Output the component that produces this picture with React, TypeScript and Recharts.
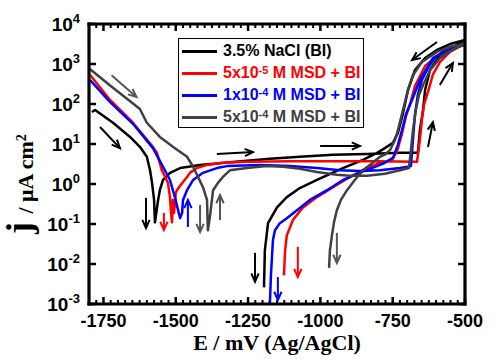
import React from 'react';
import { LineChart, Line, XAxis, YAxis, ReferenceLine, Legend } from 'recharts';

// potentials in mV vs Ag/AgCl, current density in uA cm^-2
// each curve: forward scan -1800 -> -500, then reverse scan back
const NACL: [number, number][] = [
  [-1790, 63], [-1779, 71], [-1717, 34], [-1658, 15], [-1624, 8.5], [-1600, 4.8],
  [-1589, 2.2], [-1582, 1.07], [-1575, 0.4], [-1572, 0.11], [-1566, 0.22], [-1561, 0.4],
  [-1555, 0.7], [-1544, 1.26], [-1520, 1.9], [-1485, 2.5], [-1416, 3.0], [-1313, 3.5],
  [-1174, 4.3], [-1071, 4.8], [-956, 5.4], [-839, 5.6], [-725, 6.0], [-663, 6.0],
  [-656, 22], [-645, 71], [-638, 224], [-621, 708], [-587, 1660], [-535, 2820], [-500, 4000],
  [-552, 3160], [-597, 2240], [-638, 1410], [-673, 708], [-697, 224], [-715, 56],
  [-732, 19], [-749, 10.7], [-777, 7.9], [-804, 6.0], [-853, 4.0], [-922, 2.5],
  [-1012, 1.26], [-1071, 0.79], [-1116, 0.47], [-1150, 0.26], [-1181, 0.105],
  [-1192, 0.022], [-1195, 0.0026],
];

const MSD_5E5: [number, number][] = [
  [-1797, 540], [-1727, 126], [-1648, 34], [-1579, 8.5], [-1565, 6.0], [-1548, 2.2],
  [-1527, 1.07], [-1520, 0.47], [-1517, 0.22], [-1513, 0.11], [-1510, 0.4], [-1506, 0.19],
  [-1500, 0.6], [-1496, 0.7], [-1485, 0.9], [-1475, 1.12], [-1461, 1.5], [-1451, 1.9],
  [-1427, 2.5], [-1392, 3.0], [-1337, 3.4], [-1250, 3.6], [-1100, 3.7], [-950, 3.7],
  [-800, 3.7], [-666, 3.6], [-656, 12.6], [-649, 40], [-642, 95], [-628, 200],
  [-611, 540], [-587, 1120], [-552, 2000], [-500, 3300],
  [-552, 2500], [-597, 1580], [-638, 890], [-673, 280], [-690, 100], [-704, 50],
  [-718, 18], [-732, 7.6], [-749, 4.3], [-777, 3.5], [-804, 3.2], [-839, 2.5],
  [-898, 1.5], [-956, 0.83], [-1012, 0.47], [-1060, 0.26], [-1095, 0.126],
  [-1116, 0.052], [-1122, 0.022], [-1126, 0.0052],
];

const MSD_1E4: [number, number][] = [
  [-1797, 400], [-1727, 112], [-1648, 32], [-1579, 7.9], [-1544, 2.7], [-1520, 1.26],
  [-1503, 0.47], [-1492, 0.22], [-1485, 0.14], [-1478, 0.19], [-1475, 0.4], [-1461, 0.7],
  [-1440, 1.26], [-1406, 1.9], [-1358, 2.5], [-1323, 2.8], [-1209, 3.0], [-1105, 2.8],
  [-1012, 2.5], [-932, 2.2], [-863, 2.1], [-794, 2.2], [-725, 2.5], [-687, 2.8],
  [-680, 12.6], [-673, 54], [-663, 170], [-649, 400], [-628, 800], [-604, 1410],
  [-569, 2240], [-500, 3000],
  [-552, 2500], [-611, 1410], [-656, 400], [-683, 126], [-704, 56], [-718, 22],
  [-732, 9.5], [-749, 4.5], [-777, 3.4], [-794, 3.0], [-863, 1.9], [-922, 1.26],
  [-977, 0.7], [-1036, 0.4], [-1081, 0.22], [-1116, 0.14], [-1140, 0.105],
  [-1157, 0.07], [-1164, 0.04], [-1167, 0.0166], [-1171, 0.0052], [-1174, 0.00126],
  [-1175, 0.001],
];

const MSD_5E4: [number, number][] = [
  [-1797, 750], [-1727, 290], [-1682, 160], [-1624, 75], [-1600, 34], [-1555, 15],
  [-1510, 8.5], [-1461, 4.8], [-1440, 2.7], [-1423, 1.5], [-1406, 0.83], [-1392, 0.4],
  [-1389, 0.07], [-1382, 0.15], [-1375, 0.4], [-1371, 0.7], [-1354, 1.07], [-1337, 1.5],
  [-1313, 2.2], [-1254, 2.5], [-1185, 2.8], [-1129, 2.7], [-1071, 2.4], [-1012, 2.0],
  [-943, 1.7], [-898, 1.6], [-839, 1.6], [-777, 1.8], [-725, 2.2], [-694, 2.5],
  [-687, 7], [-680, 22], [-670, 71], [-659, 170], [-645, 300], [-621, 700],
  [-587, 1400], [-545, 2240], [-500, 3160],
  [-545, 2800], [-597, 2000], [-649, 1120], [-680, 525], [-697, 224], [-718, 56],
  [-732, 22], [-742, 12.6], [-759, 7.1], [-777, 5.4], [-794, 4.8], [-829, 3.0],
  [-853, 2.2], [-881, 1.26], [-908, 0.7], [-929, 0.4], [-943, 0.22], [-953, 0.11],
  [-960, 0.052], [-967, 0.022], [-970, 0.008],
];

// scan direction arrows: [E start, j start, E end, j end]
const ARROWS_NACL = [
  [-1762, 26.6, -1693, 7.9], [-1358, 5.6, -1233, 6.3], [-1001, 8.9, -863, 8.9],
  [-597, 3550, -683, 1260], [-587, 300, -542, 1060], [-628, 8.4, -611, 35],
  [-1603, 0.45, -1603, 0.079], [-1226, 0.019, -1226, 0.0036],
];
const ARROWS_5E5 = [[-1541, 0.19, -1541, 0.071], [-1078, 0.027, -1078, 0.0047]];
const ARROWS_1E4 = [[-1458, 0.084, -1458, 0.4], [-1147, 0.0047, -1147, 0.00126]];
const ARROWS_5E4 = [
  [-1722, 520, -1636, 150], [-1416, 0.3, -1416, 0.063],
  [-1347, 0.126, -1347, 0.53], [-943, 0.06, -943, 0.0106],
];

const X_DOMAIN = [-1800, -500];
const Y_DOMAIN = [0.001, 10000];
const X_LABELS = [-1750, -1500, -1250, -1000, -750, -500];
const Y_TICKS = [0.001, 0.01, 0.1, 1, 10, 100, 1000, 10000];
const X_MINOR: number[] = [];
for (let e = -1775; e < -500; e += 25) if (e % 250 !== 0) X_MINOR.push(e);

const SANS = "'Liberation Sans', Arial, sans-serif";
const SERIF = "'Liberation Serif', 'Times New Roman', serif";

const toRows = (pts: [number, number][]) => pts.map(([E, j]) => ({ E, j }));

const SERIES = [
  { key: 'nacl', pre: '3.5% NaCl (BI)', sup: '', post: '', color: '#000000', arrowColor: '#000000', data: NACL, arrows: ARROWS_NACL },
  { key: 'm5e5', pre: '5x10', sup: '-5', post: ' M MSD + BI', color: '#ff0000', arrowColor: '#ff0000', data: MSD_5E5, arrows: ARROWS_5E5 },
  { key: 'm1e4', pre: '1x10', sup: '-4', post: ' M MSD + BI', color: '#0000ff', arrowColor: '#0000ff', data: MSD_1E4, arrows: ARROWS_1E4 },
  { key: 'm5e4', pre: '5x10', sup: '-4', post: ' M MSD + BI', color: '#404040', arrowColor: '#555555', data: MSD_5E4, arrows: ARROWS_5E4 },
];

const XTickLabel = (p: any) => (
  <text x={p.x} y={p.y + 23} textAnchor="middle" fontFamily={SANS} fontWeight="bold" fontSize={18} fill="#000">
    {p.payload.value}
  </text>
);

const YTickLabel = (p: any) => {
  const exp = Math.round(Math.log10(p.payload.value));
  return (
    <text x={p.x - 9} y={p.y + 7} textAnchor="end" fontFamily={SANS} fontWeight="bold" fontSize={19} fill="#000">
      10<tspan dy={-8} fontSize={13}>{exp}</tspan>
    </text>
  );
};

// inward tick stubs at both ends of a full-span reference line
const stubShape = (len: number, w: number) => (p: any) => {
  const { x1, y1, x2, y2 } = p;
  const vertical = Math.abs(x1 - x2) < 0.5;
  if (vertical) {
    const top = Math.min(y1, y2);
    const bot = Math.max(y1, y2);
    return (
      <g>
        <line x1={x1} x2={x1} y1={top} y2={top + len} stroke="#000" strokeWidth={w} />
        <line x1={x1} x2={x1} y1={bot} y2={bot - len} stroke="#000" strokeWidth={w} />
      </g>
    );
  }
  const left = Math.min(x1, x2);
  const right = Math.max(x1, x2);
  return (
    <g>
      <line x1={left} x2={left + len} y1={y1} y2={y1} stroke="#000" strokeWidth={w} />
      <line x1={right} x2={right - len} y1={y1} y2={y1} stroke="#000" strokeWidth={w} />
    </g>
  );
};

const frameShape = (p: any) => (
  <line x1={p.x1} y1={p.y1} x2={p.x2} y2={p.y2} stroke="#000" strokeWidth={3.2} strokeLinecap="square" />
);

const YTitle = () => (
  <text transform="rotate(-90 33 234)" x={33} y={234} fontFamily={SERIF} fontWeight="bold" fill="#000">
    <tspan fontSize={36} dy={-2}>j</tspan>
    <tspan fontSize={22} dy={2} dx={3}> / μA cm</tspan>
    <tspan fontSize={14} dy={-7}>2</tspan>
  </text>
);

const XTitle = () => (
  <text x={277} y={350} textAnchor="middle" fontFamily={SERIF} fontWeight="bold" fontSize={22} fill="#000">
    E / mV (Ag/AgCl)
  </text>
);

const arrowShape = (color: string) => (p: any) => {
  const { x1, y1, x2, y2 } = p;
  const a = Math.atan2(y2 - y1, x2 - x1);
  const L = 9;
  const w = 0.42;
  const hx1 = x2 - L * Math.cos(a - w);
  const hy1 = y2 - L * Math.sin(a - w);
  const hx2 = x2 - L * Math.cos(a + w);
  const hy2 = y2 - L * Math.sin(a + w);
  return (
    <g>
      <line x1={x1} y1={y1} x2={x2} y2={y2} stroke={color} strokeWidth={2} />
      <polyline points={`${hx1},${hy1} ${x2},${y2} ${hx2},${hy2}`} fill="none" stroke={color} strokeWidth={2} />
    </g>
  );
};

const LegendBox = () => (
  <div
    style={{
      border: '1.5px solid #000',
      background: '#fff',
      width: 186,
      height: 90,
      boxSizing: 'border-box',
      paddingTop: 1,
      fontFamily: SANS,
      fontWeight: 'bold',
      fontSize: 16,
    }}
  >
    {SERIES.map((s) => (
      <div key={s.key} style={{ display: 'flex', alignItems: 'center', height: 22, color: s.color, whiteSpace: 'nowrap' }}>
        <span style={{ display: 'inline-block', width: 35, height: 3, background: s.color, marginLeft: 3, marginRight: 6 }} />
        <span>
          {s.pre}
          {s.sup && <sup style={{ fontSize: 11, verticalAlign: 'top', lineHeight: '12px' }}>{s.sup}</sup>}
          {s.post}
        </span>
      </div>
    ))}
  </div>
);

export default function App() {
  const [x0, x1] = X_DOMAIN;
  const [y0, y1] = Y_DOMAIN;
  const frame = [
    [x0, y0, x1, y0], [x0, y1, x1, y1], [x0, y0, x0, y1], [x1, y0, x1, y1],
  ];
  return (
    <div style={{ width: 494, height: 364, background: '#fff' }}>
      <style>{'body{margin:0;}'}</style>
      <LineChart width={494} height={364} margin={{ top: 24, right: 29, bottom: 32, left: 0 }}>
        <XAxis
          xAxisId="x"
          dataKey="E"
          type="number"
          domain={X_DOMAIN}
          allowDataOverflow
          ticks={X_LABELS}
          interval={0}
          tickSize={0}
          tickMargin={0}
          tickLine={false}
          axisLine={false}
          tick={<XTickLabel />}
          height={28}
          label={<XTitle />}
        />
        <YAxis
          yAxisId="y"
          type="number"
          scale="log"
          domain={Y_DOMAIN}
          allowDataOverflow
          ticks={Y_TICKS}
          interval={0}
          tickSize={0}
          tickMargin={0}
          tickLine={false}
          axisLine={false}
          tick={<YTickLabel />}
          width={89}
          label={<YTitle />}
        />
        {X_MINOR.map((v) => (
          <ReferenceLine key={`xm${v}`} xAxisId="x" yAxisId="y" x={v} ifOverflow="visible" shape={stubShape(4, 2)} />
        ))}
        {X_LABELS.map((v) => (
          <ReferenceLine key={`xM${v}`} xAxisId="x" yAxisId="y" x={v} ifOverflow="visible" shape={stubShape(7, 2.5)} />
        ))}
        {Y_TICKS.map((v) => (
          <ReferenceLine key={`yM${v}`} xAxisId="x" yAxisId="y" y={v} ifOverflow="visible" shape={stubShape(7, 2.5)} />
        ))}
        {SERIES.map((s) => (
          <Line
            key={s.key}
            xAxisId="x"
            yAxisId="y"
            data={toRows(s.data)}
            dataKey="j"
            type="linear"
            stroke={s.color}
            strokeWidth={2.5}
            strokeLinejoin="round"
            dot={false}
            activeDot={false}
            isAnimationActive={false}
          />
        ))}
        {SERIES.flatMap((s) =>
          s.arrows.map((a, i) => (
            <ReferenceLine
              key={`${s.key}-arrow-${i}`}
              xAxisId="x"
              yAxisId="y"
              segment={[{ x: a[0], y: a[1] }, { x: a[2], y: a[3] }]}
              shape={arrowShape(s.arrowColor)}
            />
          ))
        )}
        {frame.map((f, i) => (
          <ReferenceLine
            key={`frame${i}`}
            xAxisId="x"
            yAxisId="y"
            ifOverflow="visible"
            segment={[{ x: f[0], y: f[1] }, { x: f[2], y: f[3] }]}
            shape={frameShape}
          />
        ))}
        <Legend
          layout="horizontal"
          verticalAlign="middle"
          align="center"
          wrapperStyle={{ position: 'absolute', left: 178, top: 38, width: 186, height: 90 }}
          content={() => <LegendBox />}
        />
      </LineChart>
    </div>
  );
}
